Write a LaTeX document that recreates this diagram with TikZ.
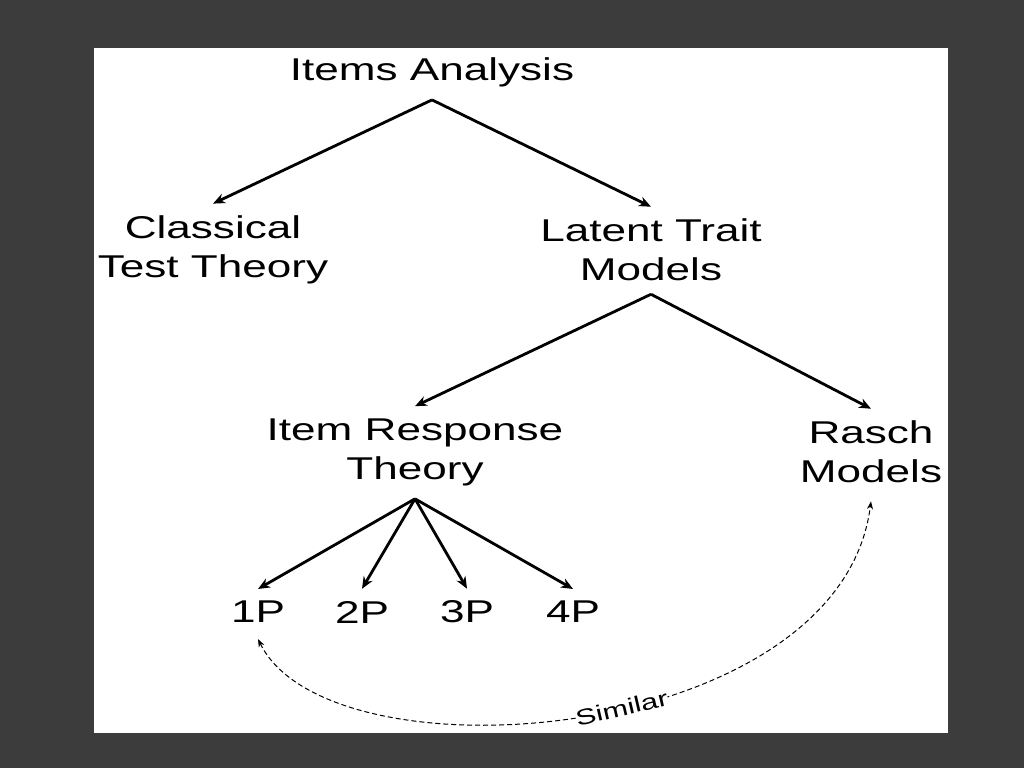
\documentclass[tikz,border=0pt]{standalone}
\usepackage{fontspec}
\setmainfont[FakeStretch=1.4]{Liberation Sans}
\usetikzlibrary{arrows.meta}
\definecolor{bg}{HTML}{3C3C3C}
\begin{document}
\begin{tikzpicture}[x=1pt,y=-1pt,
  lbl/.style={font=\fontsize{31.5}{39}\selectfont, align=center, inner sep=8pt},
  arr/.style={line width=2.8pt, -{Stealth[length=12pt,width=10pt]}},
  dsh/.style={line width=1pt, dashed, dash pattern=on 5pt off 3pt, {Stealth[length=8pt,width=6pt]}-{Stealth[length=8pt,width=6pt]}}]
\fill[bg] (0,0) rectangle (1024,768);
\useasboundingbox (0,0) rectangle (1024,768);
\fill[white] (94,48) rectangle (948,733);
\node[lbl] (ia) at (432,72) {Items Analysis};
\node[lbl] (ctt) at (213,250) {Classical\\Test Theory};
\node[lbl] (ltm) at (651,250) {Latent Trait\\Models};
\node[lbl] (irt) at (415,452) {Item Response\\Theory};
\node[lbl] (rm) at (871,452) {Rasch\\Models};
\node[lbl] (p1) at (258,612) {1P};
\node[lbl] (p2) at (362,612) {2P};
\node[lbl] (p3) at (467,612) {3P};
\node[lbl] (p4) at (573,612) {4P};
\draw[arr] ([yshift=-5pt]ia.south) -- ([yshift=4pt]ctt.north);
\draw[arr] ([yshift=-5pt]ia.south) -- ([yshift=4pt]ltm.north);
\draw[arr] ([yshift=-5pt]ltm.south) -- ([yshift=4pt]irt.north);
\draw[arr] ([yshift=-5pt]ltm.south) -- ([yshift=4pt]rm.north);
\foreach \p in {p1,p2,p3,p4} \draw[arr] ([yshift=-5pt]irt.south) -- ([yshift=4pt]\p.north);
\draw[dsh] ([yshift=-8pt]p1.south) .. controls (330,785) and (840,745) .. ([yshift=-10pt]rm.south)
  node[pos=0.55, sloped, fill=white, inner sep=0pt, font=\fontsize{22}{24}\selectfont] {Similar};
\end{tikzpicture}
\end{document}
